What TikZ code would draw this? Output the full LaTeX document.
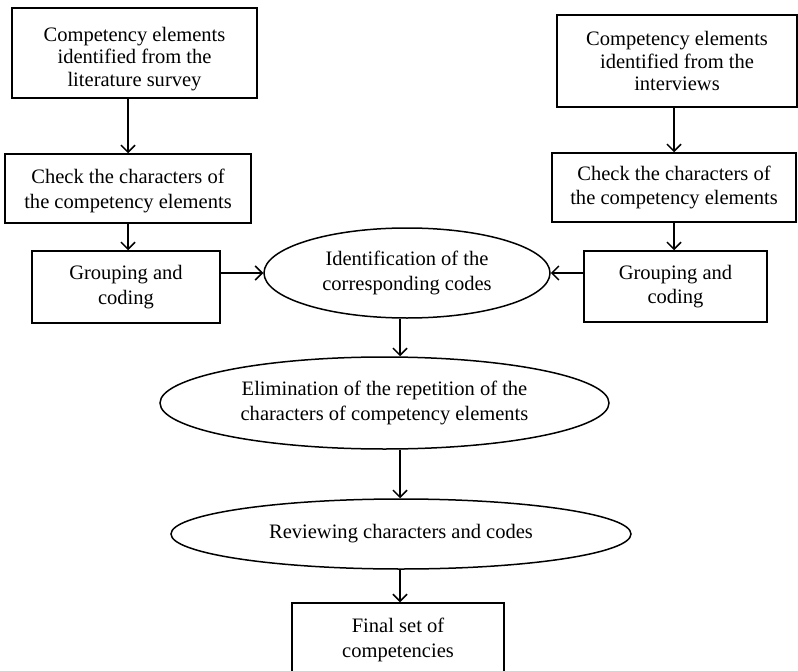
\documentclass[tikz,border=0pt]{standalone}
\usepackage{fontspec}
\setmainfont{Liberation Serif}
\usetikzlibrary{arrows.meta,shapes.geometric}
\begin{document}
\begin{tikzpicture}[x=1bp,y=-1bp,
  every node/.style={font=\fontsize{20.6}{24.5}\selectfont, align=center, inner sep=0pt},
  tight/.style={font=\fontsize{20.6}{22.5}\selectfont},
  box/.style={draw, line width=1.5bp, rectangle},
  oval/.style={draw, line width=1.5bp, ellipse},
  arr/.style={line width=1.5bp, -{Straight Barb[length=7bp,width=14bp,line width=1.5bp]}}]
\useasboundingbox (0,0) rectangle (798,671);
\clip (0,0) rectangle (798,671);
\node[box, minimum width=245bp, minimum height=90bp] (L1) at (134.5,53) {};
\node[tight] (L1t) at (134.5,59) {Competency elements\\identified from the\\literature survey};
\node[box, minimum width=246bp, minimum height=69bp] (L2) at (128,188.5) {};
\node (L2t) at (128,191) {Check the characters of\\the competency elements};
\node[box, minimum width=188bp, minimum height=72bp] (L3) at (126,287) {Grouping and\\coding};
\node[box, tight, minimum width=240bp, minimum height=92bp] (R1) at (677,61) {Competency elements\\identified from the\\interviews};
\node[box, minimum width=244bp, minimum height=69bp] (R2) at (674,187.5) {Check the characters of\\the competency elements};
\node[box, minimum width=183bp, minimum height=71bp] (R3) at (675.5,286.5) {Grouping and\\coding};
\node[oval, minimum width=286bp, minimum height=90bp] (E1) at (407,273) {Identification of the\\corresponding codes};
\node[oval, minimum width=449bp, minimum height=92bp] (E2) at (384.5,403) {Elimination of the repetition of the\\characters of competency elements};
\node[oval, minimum width=460bp, minimum height=70bp] (E3) at (401,534) {Reviewing characters and codes};
\node[box, minimum width=212bp, minimum height=74bp] (F) at (398,640) {Final set of\\competencies};
\coordinate (mid) at (400,0);
\draw[arr] (L1.south -| L2) -- (L2.north);
\draw[arr] (L2.south) -- (L2.south |- L3.north);
\draw[arr] (R1.south -| R2) -- (R2.north);
\draw[arr] (R2.south) -- (R2.south |- R3.north);
\draw[arr] (L3.east |- E1.west) -- (E1.west);
\draw[arr] (R3.west |- E1.east) -- (E1.east);
\draw[arr] (E1.south -| mid) -- (E2.north -| mid);
\draw[arr] (E2.south -| mid) -- (E3.north -| mid);
\draw[arr] (E3.south -| mid) -- (F.north -| mid);
\end{tikzpicture}
\end{document}
